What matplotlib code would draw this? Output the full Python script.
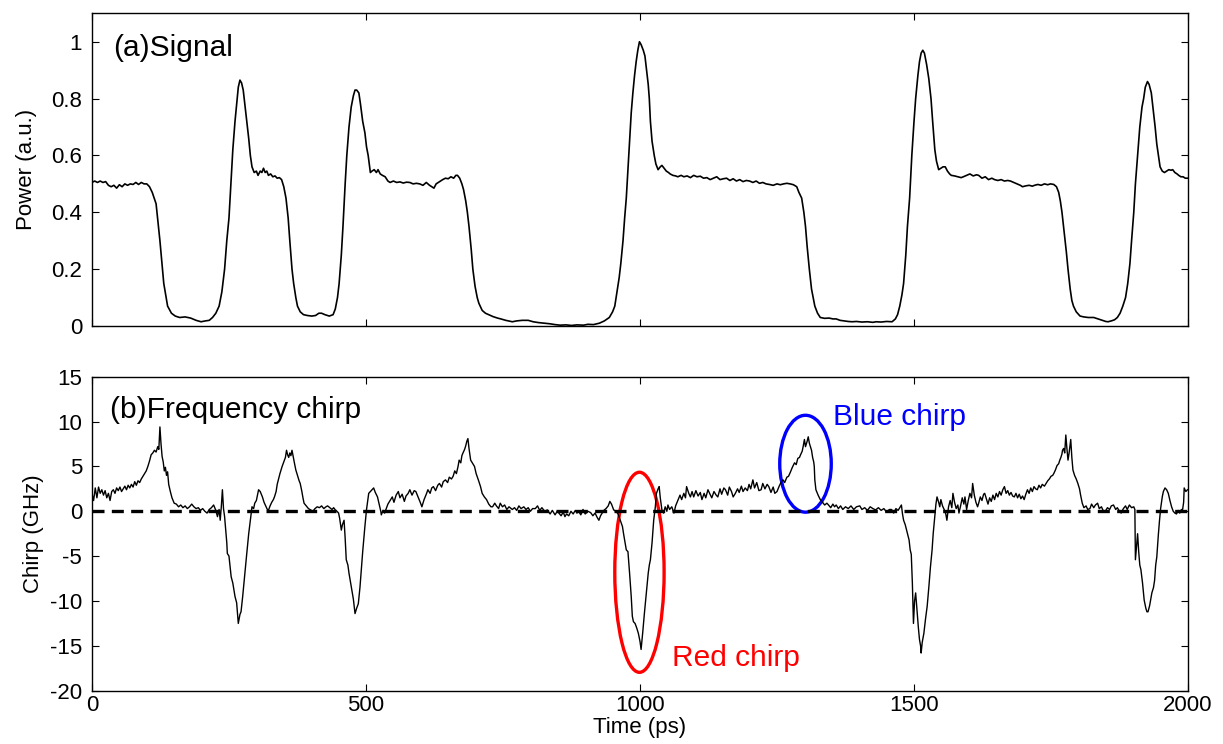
import matplotlib
matplotlib.use('Agg')
import matplotlib.pyplot as plt
from matplotlib.patches import Ellipse
import numpy as np

plt.rcParams['font.family'] = ['Liberation Sans', 'DejaVu Sans']
plt.rcParams['axes.unicode_minus'] = False

# (a) signal power
sig = [
    (0, .505), (5, .51), (10, .505), (15, .51), (20, .505), (25, .508), (30, .495), (35, .49),
    (40, .495), (45, .485), (50, .497), (55, .49), (60, .5), (65, .495), (70, .5), (75, .498),
    (80, .505), (85, .498), (90, .505), (95, .5), (100, .5), (105, .49), (110, .47), (117, .43),
    (124, .3), (131, .15), (138, .07), (145, .045), (152, .035), (160, .03), (170, .032),
    (180, .028), (190, .02), (199, .015), (207, .018), (214, .02), (220, .03), (226, .045),
    (232, .07), (237, .12), (242, .2), (246, .3), (250, .38), (254, .52), (257, .62), (261, .72),
    (264, .78), (267, .84), (270, .865), (273, .855), (276, .83), (279, .78), (282, .73),
    (286, .66), (289, .6), (292, .56), (296, .54), (300, .545), (303, .53), (307, .545),
    (310, .54), (313, .555), (316, .54), (319, .545), (322, .53), (326, .535), (330, .525),
    (334, .528), (338, .52), (342, .522), (346, .515), (350, .49), (354, .45), (358, .38),
    (361, .3), (365, .2), (368, .15), (372, .1), (375, .07), (380, .05), (386, .04), (393, .037),
    (401, .035), (408, .037), (414, .045), (419, .045), (425, .04), (433, .035), (440, .04),
    (444, .06), (448, .1), (451, .15), (455, .25), (458, .35), (462, .5), (465, .6), (469, .7),
    (473, .77), (477, .81), (480, .83), (483, .83), (487, .82), (490, .78), (494, .72),
    (498, .68), (501, .63), (504, .6), (508, .54), (511, .545), (515, .55), (519, .54),
    (522, .55), (526, .535), (530, .53), (535, .525), (540, .51), (544, .505), (550, .51),
    (556, .505), (562, .507), (568, .503), (574, .506), (580, .505), (586, .5), (592, .502),
    (598, .5), (604, .495), (610, .505), (616, .495), (620, .49), (624, .485), (628, .5),
    (632, .505), (636, .51), (640, .515), (645, .52), (650, .518), (655, .525), (660, .52),
    (664, .53), (667, .53), (671, .52), (675, .5), (678, .48), (682, .44), (685, .4), (688, .35),
    (692, .27), (695, .2), (699, .14), (703, .1), (706, .08), (712, .055), (718, .045),
    (724, .04), (732, .033), (740, .028), (746, .025), (755, .02), (762, .017), (767, .015),
    (775, .018), (785, .02), (796, .02), (805, .015), (815, .012), (825, .01), (835, .008),
    (845, .005), (854, .003), (865, .004), (875, .002), (885, .004), (897, .003), (905, .006),
    (915, .005), (926, .01), (935, .018), (944, .03), (950, .05), (954, .07), (958, .12),
    (962, .17), (965, .22), (969, .3), (972, .38), (975, .45), (978, .55), (981, .65),
    (984, .75), (987, .82), (990, .88), (993, .93), (996, .97), (999, 1.0), (1002, .99),
    (1006, .97), (1009, .95), (1012, .9), (1015, .85), (1017, .8), (1019, .72), (1022, .65),
    (1026, .6), (1029, .57), (1033, .55), (1037, .56), (1040, .565), (1044, .555), (1048, .545),
    (1052, .54), (1055, .535), (1060, .53), (1065, .528), (1069, .525), (1075, .53), (1080, .525),
    (1086, .528), (1092, .522), (1098, .53), (1104, .525), (1110, .527), (1116, .52), (1122, .522),
    (1128, .515), (1134, .52), (1140, .525), (1146, .515), (1152, .518), (1158, .52), (1164, .512),
    (1170, .518), (1176, .51), (1182, .515), (1188, .508), (1194, .512), (1200, .51), (1206, .505),
    (1212, .51), (1218, .502), (1224, .505), (1230, .5), (1236, .498), (1243, .495), (1250, .5),
    (1256, .497), (1262, .5), (1268, .502), (1274, .5), (1280, .497), (1286, .49), (1290, .47),
    (1295, .45), (1299, .4), (1302, .35), (1305, .28), (1309, .2), (1313, .13), (1319, .07),
    (1324, .045), (1329, .03), (1337, .027), (1345, .028), (1352, .025), (1358, .025), (1365, .02),
    (1372, .018), (1380, .016), (1387, .015), (1395, .016), (1405, .014), (1415, .015), (1425, .013),
    (1431, .015), (1440, .014), (1450, .016), (1460, .015), (1466, .025), (1470, .04), (1474, .07),
    (1478, .11), (1481, .15), (1485, .25), (1488, .35), (1492, .45), (1496, .6), (1500, .72),
    (1503, .8), (1507, .88), (1510, .93), (1513, .96), (1516, .97), (1519, .96), (1523, .92),
    (1527, .87), (1531, .8), (1534, .72), (1538, .62), (1541, .58), (1545, .55), (1549, .555),
    (1553, .56), (1557, .56), (1561, .545), (1565, .535), (1568, .53), (1574, .528), (1580, .525),
    (1586, .522), (1590, .525), (1596, .53), (1602, .535), (1608, .528), (1614, .532), (1618, .53),
    (1624, .52), (1630, .525), (1636, .515), (1642, .52), (1647, .515), (1653, .512), (1659, .515),
    (1665, .51), (1671, .512), (1676, .51), (1682, .505), (1688, .5), (1694, .495), (1698, .49),
    (1704, .493), (1710, .495), (1716, .492), (1720, .495), (1726, .498), (1732, .495), (1738, .5),
    (1744, .497), (1749, .5), (1755, .498), (1760, .49), (1764, .47), (1767, .44), (1770, .4),
    (1774, .33), (1778, .26), (1781, .2), (1785, .13), (1788, .09), (1791, .07), (1796, .05),
    (1803, .035), (1810, .032), (1818, .03), (1828, .03), (1836, .025), (1844, .02), (1850, .016),
    (1854, .015), (1860, .018), (1866, .022), (1871, .03), (1876, .045), (1881, .07), (1886, .1),
    (1890, .15), (1894, .22), (1897, .3), (1901, .4), (1904, .5), (1908, .6), (1912, .7),
    (1916, .77), (1919, .8), (1922, .84), (1926, .86), (1929, .85), (1933, .82), (1936, .77),
    (1940, .7), (1943, .64), (1946, .6), (1949, .56), (1953, .545), (1957, .54), (1961, .545),
    (1965, .55), (1969, .548), (1972, .55), (1976, .54), (1980, .535), (1983, .53), (1987, .525),
    (1991, .525), (1995, .52), (1998, .52), (2000, .52),
]
sig_t = [p[0] for p in sig]
sig_p = [p[1] for p in sig]

# (b) frequency chirp in GHz
chirp = [
    (0, 2.0), (3, 1.2), (6, 2.6), (9, 1.5), (12, 2.7), (15, 2.0), (18, 2.4), (21, 1.8), (24, 2.3),
    (27, 1.5), (30, 2.0), (33, 1.2), (36, 2.2), (39, 2.4), (42, 2.0), (45, 2.6), (48, 2.3), (51, 2.7),
    (54, 2.2), (57, 2.5), (60, 2.8), (63, 2.4), (66, 2.9), (69, 2.6), (72, 3.0), (75, 2.7), (78, 3.3),
    (81, 2.9), (84, 3.4), (87, 3.2), (90, 3.6), (93, 3.9), (96, 4.2), (99, 4.5), (102, 5.0), (105, 5.6),
    (108, 6.3), (111, 6.5), (114, 6.8), (117, 6.6), (120, 7.2), (122, 6.9), (124, 9.4), (126, 7.5),
    (128, 6.1), (130, 5.5), (132, 4.5), (134, 4.9), (136, 4.0), (138, 4.4), (140, 3.0), (143, 2.2),
    (146, 1.5), (150, 0.9), (154, 0.8), (158, 0.5), (162, 0.7), (166, 0.4), (170, 0.6), (174, 0.3),
    (178, 0.5), (182, 0.8), (186, 0.5), (190, 0.3), (194, 0.4), (198, 0.1), (202, 0.3), (206, 0.0),
    (210, -0.2), (214, 0.2), (218, 0.4), (222, 0.7), (226, 0.1), (229, -0.6), (232, 0.2), (234, -1.0),
    (236, 0.5), (238, 2.4), (240, 0.3), (242, -0.6), (244, -2.0), (246, -3.5), (247, -4.7), (250, -5.0),
    (254, -7.3), (257, -8.0), (261, -9.5), (264, -10.2), (267, -12.5), (270, -11.5), (272, -11.2),
    (275, -9.5), (279, -6.9), (282, -5.0), (286, -2.5), (289, -1.0), (292, 0.5), (295, 0.3), (297, 0.9),
    (300, 1.2), (302, 1.8), (304, 2.4), (307, 2.2), (309, 1.9), (311, 1.6), (314, 1.0), (317, 0.6),
    (320, 0.2), (322, 0.1), (325, 0.6), (328, 1.0), (331, 1.3), (333, 1.6), (336, 2.2), (338, 3.0),
    (340, 3.5), (343, 4.2), (345, 4.6), (347, 5.0), (350, 5.5), (353, 6.0), (355, 6.8), (357, 6.3),
    (359, 6.0), (361, 6.5), (363, 6.2), (365, 6.8), (368, 5.8), (370, 5.2), (372, 4.6), (375, 4.0),
    (378, 3.4), (380, 3.1), (383, 2.2), (385, 1.5), (387, 0.9), (391, 0.6), (395, 0.3), (399, 0.15),
    (403, 0.0), (407, 0.3), (411, 0.5), (415, 0.4), (419, 0.6), (423, 0.3), (427, 0.5), (430, 0.6),
    (434, 0.4), (438, 0.2), (441, 0.4), (444, 0.15), (447, 0.0), (450, -0.2), (452, -0.8), (455, -2.1),
    (457, -1.5), (460, -1.0), (462, -3.0), (464, -5.4), (467, -6.0), (469, -6.9), (472, -8.0),
    (475, -9.1), (477, -9.8), (480, -11.4), (483, -10.8), (486, -10.3), (489, -8.5), (491, -6.9),
    (494, -4.5), (498, -1.7), (501, 0.2), (505, 2.0), (508, 2.2), (511, 2.4), (514, 2.6), (517, 2.1),
    (521, 1.6), (524, 0.8), (527, 0.0), (528, -0.4), (531, 0.1), (534, -0.2), (537, 0.3), (540, 0.8),
    (544, 1.2), (548, 1.6), (551, 1.0), (555, 1.8), (559, 2.2), (562, 1.5), (566, 1.9), (570, 1.1),
    (573, 1.7), (577, 2.0), (580, 2.4), (584, 1.8), (588, 2.3), (591, 2.2), (595, 1.6), (599, 1.0),
    (602, 0.5), (606, 1.3), (610, 1.9), (613, 2.4), (617, 2.0), (620, 2.6), (623, 2.75), (627, 2.3),
    (631, 2.9), (634, 3.1), (638, 2.7), (641, 3.3), (645, 3.5), (649, 3.2), (652, 3.8), (656, 3.6),
    (659, 3.9), (662, 4.5), (665, 4.2), (668, 5.0), (670, 5.7), (673, 5.4), (675, 6.2), (677, 6.5),
    (680, 6.9), (682, 7.3), (684, 7.8), (686, 8.1), (688, 7.0), (691, 5.7), (694, 5.4), (698, 5.0),
    (701, 4.2), (705, 3.5), (709, 2.75), (712, 2.0), (716, 1.6), (720, 1.3), (724, 0.8), (728, 0.5),
    (731, 0.5), (735, 0.9), (738, 0.6), (742, 0.3), (745, 0.9), (749, 0.5), (753, 0.7), (757, 0.2),
    (761, 0.5), (767, 0.2), (771, 0.4), (775, 0.1), (779, 0.6), (783, 0.3), (788, 0.5), (792, 0.2),
    (796, 0.4), (800, 0.0), (804, 0.3), (809, 0.3), (813, 0.6), (817, 0.1), (821, 0.4), (826, 0.0),
    (831, 0.15), (836, -0.3), (840, 0.1), (845, -0.4), (849, 0.0), (852, -0.2), (856, -0.5),
    (860, -0.1), (863, -0.6), (866, -0.3), (870, -0.5), (874, 0.0), (878, -0.3), (882, 0.1),
    (885, -0.2), (888, 0.0), (892, -0.4), (896, 0.2), (900, -0.3), (905, 0.0), (910, -0.15),
    (914, -0.5), (918, -0.2), (922, -0.7), (925, -1.0), (928, -0.5), (931, -0.2), (934, 0.1),
    (938, 0.3), (942, 0.6), (945, 1.1), (948, 0.8), (952, 0.15), (956, 0.0), (960, -0.3), (964, -1.0),
    (968, -1.7), (970, -2.5), (972, -3.2), (975, -4.3), (978, -4.5), (981, -6.9), (984, -9.5),
    (986, -11.7), (988, -12.3), (991, -12.5), (994, -13.0), (997, -13.6), (1000, -14.5), (1002, -15.4),
    (1005, -13.5), (1008, -11.4), (1011, -9.5), (1015, -6.9), (1017, -6.0), (1019, -5.4), (1022, -3.5),
    (1025, -1.0), (1028, 0.5), (1030, 2.0), (1033, 2.5), (1035, 2.75), (1037, 1.5), (1040, 0.15),
    (1043, -0.2), (1046, 0.5), (1049, 0.0), (1051, 0.7), (1054, 0.2), (1058, 0.5), (1062, -0.2),
    (1065, 0.6), (1069, 1.2), (1073, 1.8), (1076, 1.3), (1080, 2.0), (1083, 1.5), (1085, 2.75),
    (1089, 2.0), (1092, 1.6), (1095, 2.2), (1098, 1.6), (1102, 2.3), (1106, 1.7), (1110, 2.1),
    (1113, 1.3), (1117, 2.0), (1120, 1.5), (1124, 2.4), (1127, 2.0), (1131, 1.5), (1135, 2.2),
    (1139, 1.8), (1142, 1.6), (1146, 2.5), (1149, 1.9), (1153, 2.6), (1156, 2.4), (1160, 1.8),
    (1163, 2.7), (1167, 2.2), (1170, 1.6), (1174, 2.0), (1178, 2.5), (1181, 2.1), (1185, 2.8),
    (1188, 2.2), (1192, 2.6), (1196, 2.3), (1199, 3.0), (1202, 2.5), (1206, 3.5), (1209, 2.6),
    (1213, 3.2), (1217, 2.3), (1221, 2.4), (1224, 3.1), (1228, 2.5), (1232, 3.0), (1235, 2.75),
    (1239, 2.1), (1243, 2.7), (1246, 2.0), (1250, 2.2), (1254, 2.8), (1258, 3.3), (1261, 3.5),
    (1264, 3.2), (1268, 3.8), (1271, 3.9), (1274, 4.3), (1278, 4.9), (1282, 5.4), (1285, 5.2),
    (1288, 5.9), (1291, 6.0), (1293, 6.3), (1296, 6.7), (1298, 7.3), (1300, 8.0), (1302, 7.2),
    (1305, 7.8), (1307, 8.3), (1309, 7.6), (1311, 7.2), (1313, 6.8), (1315, 6.0), (1317, 5.5),
    (1318, 5.0), (1319, 3.5), (1321, 2.4), (1325, 1.8), (1329, 1.3), (1333, 1.0), (1337, 0.7),
    (1341, 0.9), (1344, 0.7), (1348, 0.4), (1352, 0.8), (1355, 0.5), (1358, 0.7), (1362, 0.3),
    (1366, 0.6), (1370, 0.2), (1375, 0.5), (1380, 0.3), (1385, 0.6), (1390, 0.2), (1395, 0.5),
    (1401, 0.6), (1405, 0.2), (1410, 0.4), (1415, 0.1), (1420, 0.5), (1425, 0.3), (1430, 0.15),
    (1435, 0.4), (1440, 0.1), (1445, 0.3), (1450, -0.1), (1455, 0.2), (1459, 0.2), (1463, -0.2),
    (1467, 0.3), (1471, 0.1), (1475, 0.5), (1477, 0.7), (1479, -0.3), (1481, -1.0), (1484, -1.5),
    (1488, -2.5), (1491, -3.2), (1493, -4.3), (1495, -4.8), (1497, -8.0), (1499, -12.5), (1501, -10.0),
    (1503, -9.1), (1506, -11.5), (1508, -13.0), (1510, -14.3), (1512, -15.0), (1513, -15.8),
    (1515, -14.6), (1518, -13.6), (1521, -12.0), (1524, -10.6), (1527, -8.5), (1530, -6.2),
    (1533, -4.3), (1535, -2.5), (1538, -0.5), (1540, 0.8), (1542, 1.6), (1545, 1.0), (1547, 0.5),
    (1549, 1.3), (1552, 0.6), (1555, 0.2), (1558, -0.3), (1560, -1.0), (1563, 0.5), (1566, 1.2),
    (1569, 0.4), (1571, 2.0), (1574, 1.0), (1577, 0.3), (1580, 0.7), (1582, -0.2), (1585, 0.6),
    (1588, 1.5), (1591, 0.8), (1593, 1.6), (1596, 0.2), (1599, 1.2), (1602, 2.0), (1605, 1.5),
    (1607, 3.1), (1610, 1.8), (1613, 1.0), (1616, 0.5), (1618, 0.9), (1621, 1.6), (1624, 1.2),
    (1627, 1.9), (1629, 2.0), (1632, 1.4), (1635, 0.8), (1638, 1.5), (1641, 1.1), (1644, 1.8),
    (1647, 1.3), (1650, 2.0), (1653, 1.6), (1656, 2.2), (1659, 1.8), (1662, 2.4), (1665, 2.75),
    (1668, 2.0), (1671, 2.3), (1674, 1.8), (1677, 2.1), (1680, 1.7), (1683, 1.6), (1686, 2.0),
    (1689, 1.5), (1692, 1.9), (1695, 1.4), (1698, 1.7), (1701, 1.3), (1704, 1.9), (1707, 2.4),
    (1710, 2.0), (1713, 2.6), (1716, 2.2), (1719, 2.75), (1722, 2.5), (1725, 2.4), (1728, 2.9),
    (1731, 2.6), (1734, 3.0), (1738, 2.8), (1741, 3.1), (1744, 3.4), (1747, 3.6), (1750, 3.9),
    (1753, 4.0), (1755, 4.2), (1758, 4.6), (1761, 5.1), (1764, 5.3), (1766, 5.7), (1768, 6.0),
    (1770, 6.4), (1771, 6.8), (1773, 7.0), (1775, 6.5), (1777, 8.5), (1779, 7.0), (1781, 5.7),
    (1783, 6.5), (1786, 8.0), (1788, 6.0), (1790, 4.6), (1793, 4.0), (1796, 3.6), (1799, 3.1),
    (1802, 2.5), (1804, 1.8), (1807, 0.9), (1810, 0.4), (1814, 0.6), (1817, 0.2), (1821, 0.3),
    (1824, 0.8), (1828, 0.4), (1831, 0.7), (1835, 0.9), (1838, 0.3), (1842, 0.5), (1845, 0.1),
    (1849, 0.0), (1853, 0.4), (1857, 0.2), (1860, 0.6), (1864, 0.7), (1868, 0.2), (1871, 0.4),
    (1875, 0.0), (1878, -0.2), (1882, 0.3), (1886, 0.6), (1889, 0.2), (1893, 0.7), (1897, 0.4),
    (1901, 0.5), (1903, 0.2), (1904, -5.4), (1906, -4.0), (1908, -2.5), (1910, -4.5), (1912, -6.0),
    (1914, -6.5), (1917, -8.0), (1920, -9.9), (1923, -10.8), (1925, -11.2), (1927, -11.2),
    (1930, -10.5), (1932, -9.8), (1934, -9.1), (1937, -8.5), (1939, -7.7), (1941, -6.0), (1943, -5.1),
    (1946, -2.5), (1948, -1.0), (1950, 0.3), (1953, 1.6), (1955, 2.2), (1958, 2.6), (1961, 2.4),
    (1964, 2.0), (1967, 1.2), (1970, 0.5), (1973, 0.0), (1976, -0.2), (1979, -0.3), (1982, 0.1),
    (1985, -0.2), (1988, 0.2), (1990, 0.15), (1992, 1.0), (1993, 2.6), (1996, 2.2), (1999, 2.4),
]
chirp_t = [p[0] for p in chirp]
chirp_v = [p[1] for p in chirp]

x_ticks = [0, 500, 1000, 1500, 2000]
p_ticks = [0, 0.2, 0.4, 0.6, 0.8, 1]
p_labels = ['0', '0.2', '0.4', '0.6', '0.8', '1']
c_ticks = [-20, -15, -10, -5, 0, 5, 10, 15]

fig = plt.figure(figsize=(12.23, 7.44), dpi=100)
ax1 = fig.add_axes([0.0752, 0.5618, 0.8962, 0.4203])
ax2 = fig.add_axes([0.0752, 0.0716, 0.8962, 0.4221])

for ax in (ax1, ax2):
    ax.tick_params(direction='in', top=True, right=True, labelsize=16, length=5, width=0.8)
    ax.tick_params(axis='y', pad=7)
    ax.tick_params(axis='x', pad=3)
    ax.set_xlim(0, 2000)
    ax.set_xticks(x_ticks)
    for s in ax.spines.values():
        s.set_linewidth(1.0)

ax1.plot(sig_t, sig_p, color='black', lw=1.2)
ax1.set_ylim(0, 1.1)
ax1.set_yticks(p_ticks)
ax1.set_yticklabels(p_labels)
ax1.set_xticklabels([])
ax1.set_ylabel('Power (a.u.)', fontsize=16, labelpad=10)
ax1.text(38, 0.979, '(a)Signal', fontsize=21.5, va='center', ha='left')

ax2.plot(chirp_t, chirp_v, color='black', lw=1.0)
ax2.axhline(0, color='black', lw=2.4, dashes=(3.6, 2.2))
ax2.set_ylim(-20, 15)
ax2.set_yticks(c_ticks)
ax2.set_xticklabels([str(v) for v in x_ticks])
ax2.set_ylabel('Chirp (GHz)', fontsize=16, labelpad=4)
ax2.set_xlabel('Time (ps)', fontsize=16, labelpad=1)
ax2.text(33, 11.3, '(b)Frequency chirp', fontsize=21.5, va='center', ha='left')

ax2.add_patch(Ellipse((999, -6.8), 90, 22.3, fill=False, edgecolor='red', lw=2.4))
ax2.add_patch(Ellipse((1302, 5.3), 94, 10.8, fill=False, edgecolor='blue', lw=2.4))
ax2.text(1352, 10.5, 'Blue chirp', color='blue', fontsize=21.5, va='center', ha='left')
ax2.text(1058, -16.3, 'Red chirp', color='red', fontsize=21.5, va='center', ha='left')

fig.savefig('out.png', dpi=100)
